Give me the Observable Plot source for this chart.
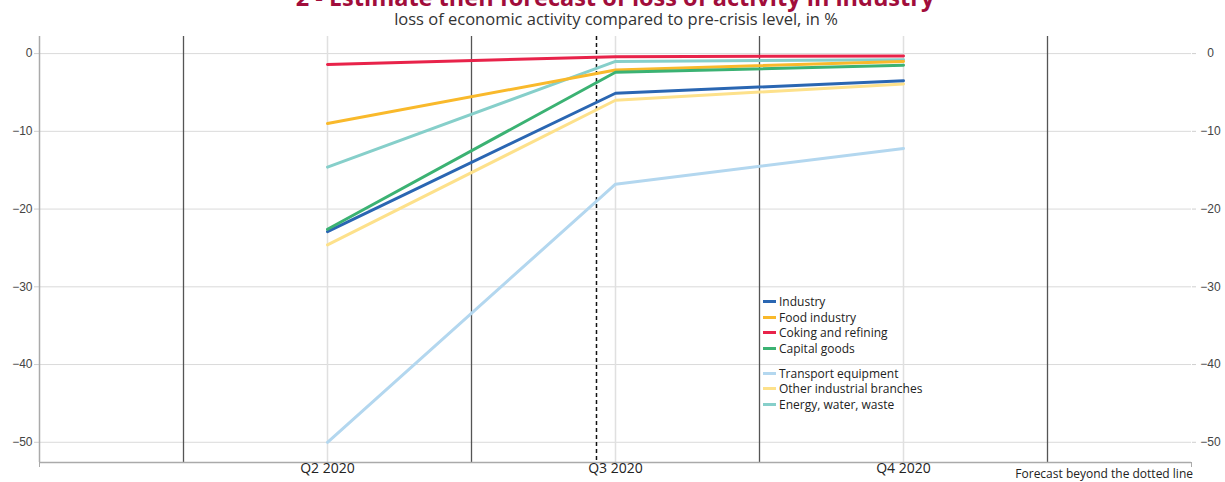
<!DOCTYPE html>
<html>
<head>
<meta charset="utf-8">
<script src="https://cdn.jsdelivr.net/npm/d3@7"></script>
<script src="https://cdn.jsdelivr.net/npm/@observablehq/plot@0.6"></script>
<style>
  html, body { margin: 0; padding: 0; background: #fff; }
  #chart { position: relative; width: 1225px; height: 482px; overflow: hidden; }
  #chart svg { position: absolute; left: 0; top: 0; }
  .title { position: absolute; left: 0; width: 1230px; text-align: center; top: -15px;
    font: bold 23.5px/24px "Open Sans", sans-serif; color: #a10d3b; white-space: nowrap; }
  .subtitle { position: absolute; left: 0; width: 1232px; text-align: center; top: 10px;
    font: 16.5px/17px "Open Sans", sans-serif; color: #333; white-space: nowrap; }
  .legend { position: absolute; left: 763px; top: 294px; font: 12px/15.5px "Open Sans", sans-serif; color: #222; }
  .legend .row { display: flex; align-items: center; height: 15.5px; }
  .legend .gap { height: 9.5px; }
  .legend .sw { width: 13px; height: 3px; margin-right: 3px; }
  .note { position: absolute; right: 32px; top: 467px; font: 12px/13px "Open Sans", sans-serif; color: #222; }
</style>
</head>
<body>
<div id="chart"></div>
<script>
// ---- data ----
const quarters = ["Q2 2020", "Q3 2020", "Q4 2020"];
const quarterPos = [2, 3, 4];          // position in quarter sequence (Q1 2020 = 1)
const quarterBounds = [1.5, 2.5, 3.5, 4.5];
const forecastStart = 2.934;
const seriesNames = ["Industry", "Food industry", "Coking and refining", "Capital goods",
                     "Transport equipment", "Other industrial branches", "Energy, water, waste"];
const seriesColors = ["#2a66b2", "#f9b92b", "#e8234a", "#3bb273", "#b3d7ef", "#fde18b", "#86cfca"];
const industry      = [-22.9, -5.1, -3.5];
const food          = [-9.0, -2.1, -1.0];
const coking        = [-1.4, -0.4, -0.3];
const capitalGoods  = [-22.6, -2.4, -1.5];
const transport     = [-50.0, -16.8, -12.2];
const otherBranches = [-24.6, -6.0, -3.9];
const energy        = [-14.6, -1.0, -0.8];
const yTicks = [0, -10, -20, -30, -40, -50];

const seriesValues = [industry, food, coking, capitalGoods, transport, otherBranches, energy];
const drawOrder = [4, 5, 6, 0, 1, 2, 3];
const data = [];
for (const i of drawOrder) {
  seriesValues[i].forEach((v, j) => data.push({series: seriesNames[i], pos: quarterPos[j], value: v}));
}
const fmt = d => d === 0 ? "0" : "\u2212" + Math.abs(d);

const chart = Plot.plot({
  width: 1225, height: 482,
  marginTop: 36, marginBottom: 20, marginLeft: 39, marginRight: 34,
  x: {type: "linear", domain: [1, 5]},
  y: {domain: [-52.6, 2.2]},
  color: {domain: seriesNames, range: seriesColors},
  style: {fontFamily: "'Liberation Sans', Arial, sans-serif", fontSize: "12px", color: "#444", background: "transparent"},
  marks: [
    Plot.gridY(yTicks, {stroke: "#dadada", strokeOpacity: 1, strokeWidth: 1}),
    Plot.gridX(quarterPos, {stroke: "#e0e0e0", strokeOpacity: 1, strokeWidth: 1.5}),
    Plot.ruleX(quarterBounds, {stroke: "#555", strokeWidth: 1.3}),
    Plot.ruleX([forecastStart], {stroke: "#111", strokeWidth: 1.5, strokeDasharray: "4,3"}),
    Plot.axisY({anchor: "left", ticks: yTicks, tickSize: 5, tickPadding: 2, tickFormat: fmt,
                stroke: "#cfcfcf", fill: "#444", label: null}),
    Plot.axisY({anchor: "right", ticks: yTicks, tickSize: 4, tickPadding: 15, tickFormat: fmt,
                textAnchor: "middle", stroke: "#cfcfcf", fill: "#444", label: null}),
    Plot.ruleX([1], {stroke: "#aaa", strokeWidth: 1.5}),
    Plot.ruleY([-52.6], {stroke: "#aaa", strokeWidth: 1.5}),
    Plot.axisX({ticks: [1, 5], tickSize: 5, tickFormat: () => "", stroke: "#aaa", label: null}),
    Plot.axisX({ticks: quarterPos, tickSize: 0, tickPadding: 1, tickFormat: d => quarters[quarterPos.indexOf(d)],
                fontFamily: "'Open Sans', sans-serif", fontSize: 14, fill: "#222", label: null}),
    Plot.line(data, {x: "pos", y: "value", z: "series", stroke: "series", strokeWidth: 3})
  ]
});

const root = document.getElementById("chart");
root.appendChild(chart);

const title = document.createElement("div");
title.className = "title";
title.textContent = "2 - Estimate then forecast of loss of activity in industry";
root.appendChild(title);
const sub = document.createElement("div");
sub.className = "subtitle";
sub.textContent = "loss of economic activity compared to pre-crisis level, in %";
root.appendChild(sub);

const legend = document.createElement("div");
legend.className = "legend";
seriesNames.forEach((name, i) => {
  if (i === 4) { const g = document.createElement("div"); g.className = "gap"; legend.appendChild(g); }
  const row = document.createElement("div");
  row.className = "row";
  const sw = document.createElement("span");
  sw.className = "sw";
  sw.style.background = seriesColors[i];
  const lab = document.createElement("span");
  lab.textContent = name;
  row.appendChild(sw); row.appendChild(lab);
  legend.appendChild(row);
});
root.appendChild(legend);

const note = document.createElement("div");
note.className = "note";
note.textContent = "Forecast beyond the dotted line";
root.appendChild(note);
</script>
</body>
</html>
